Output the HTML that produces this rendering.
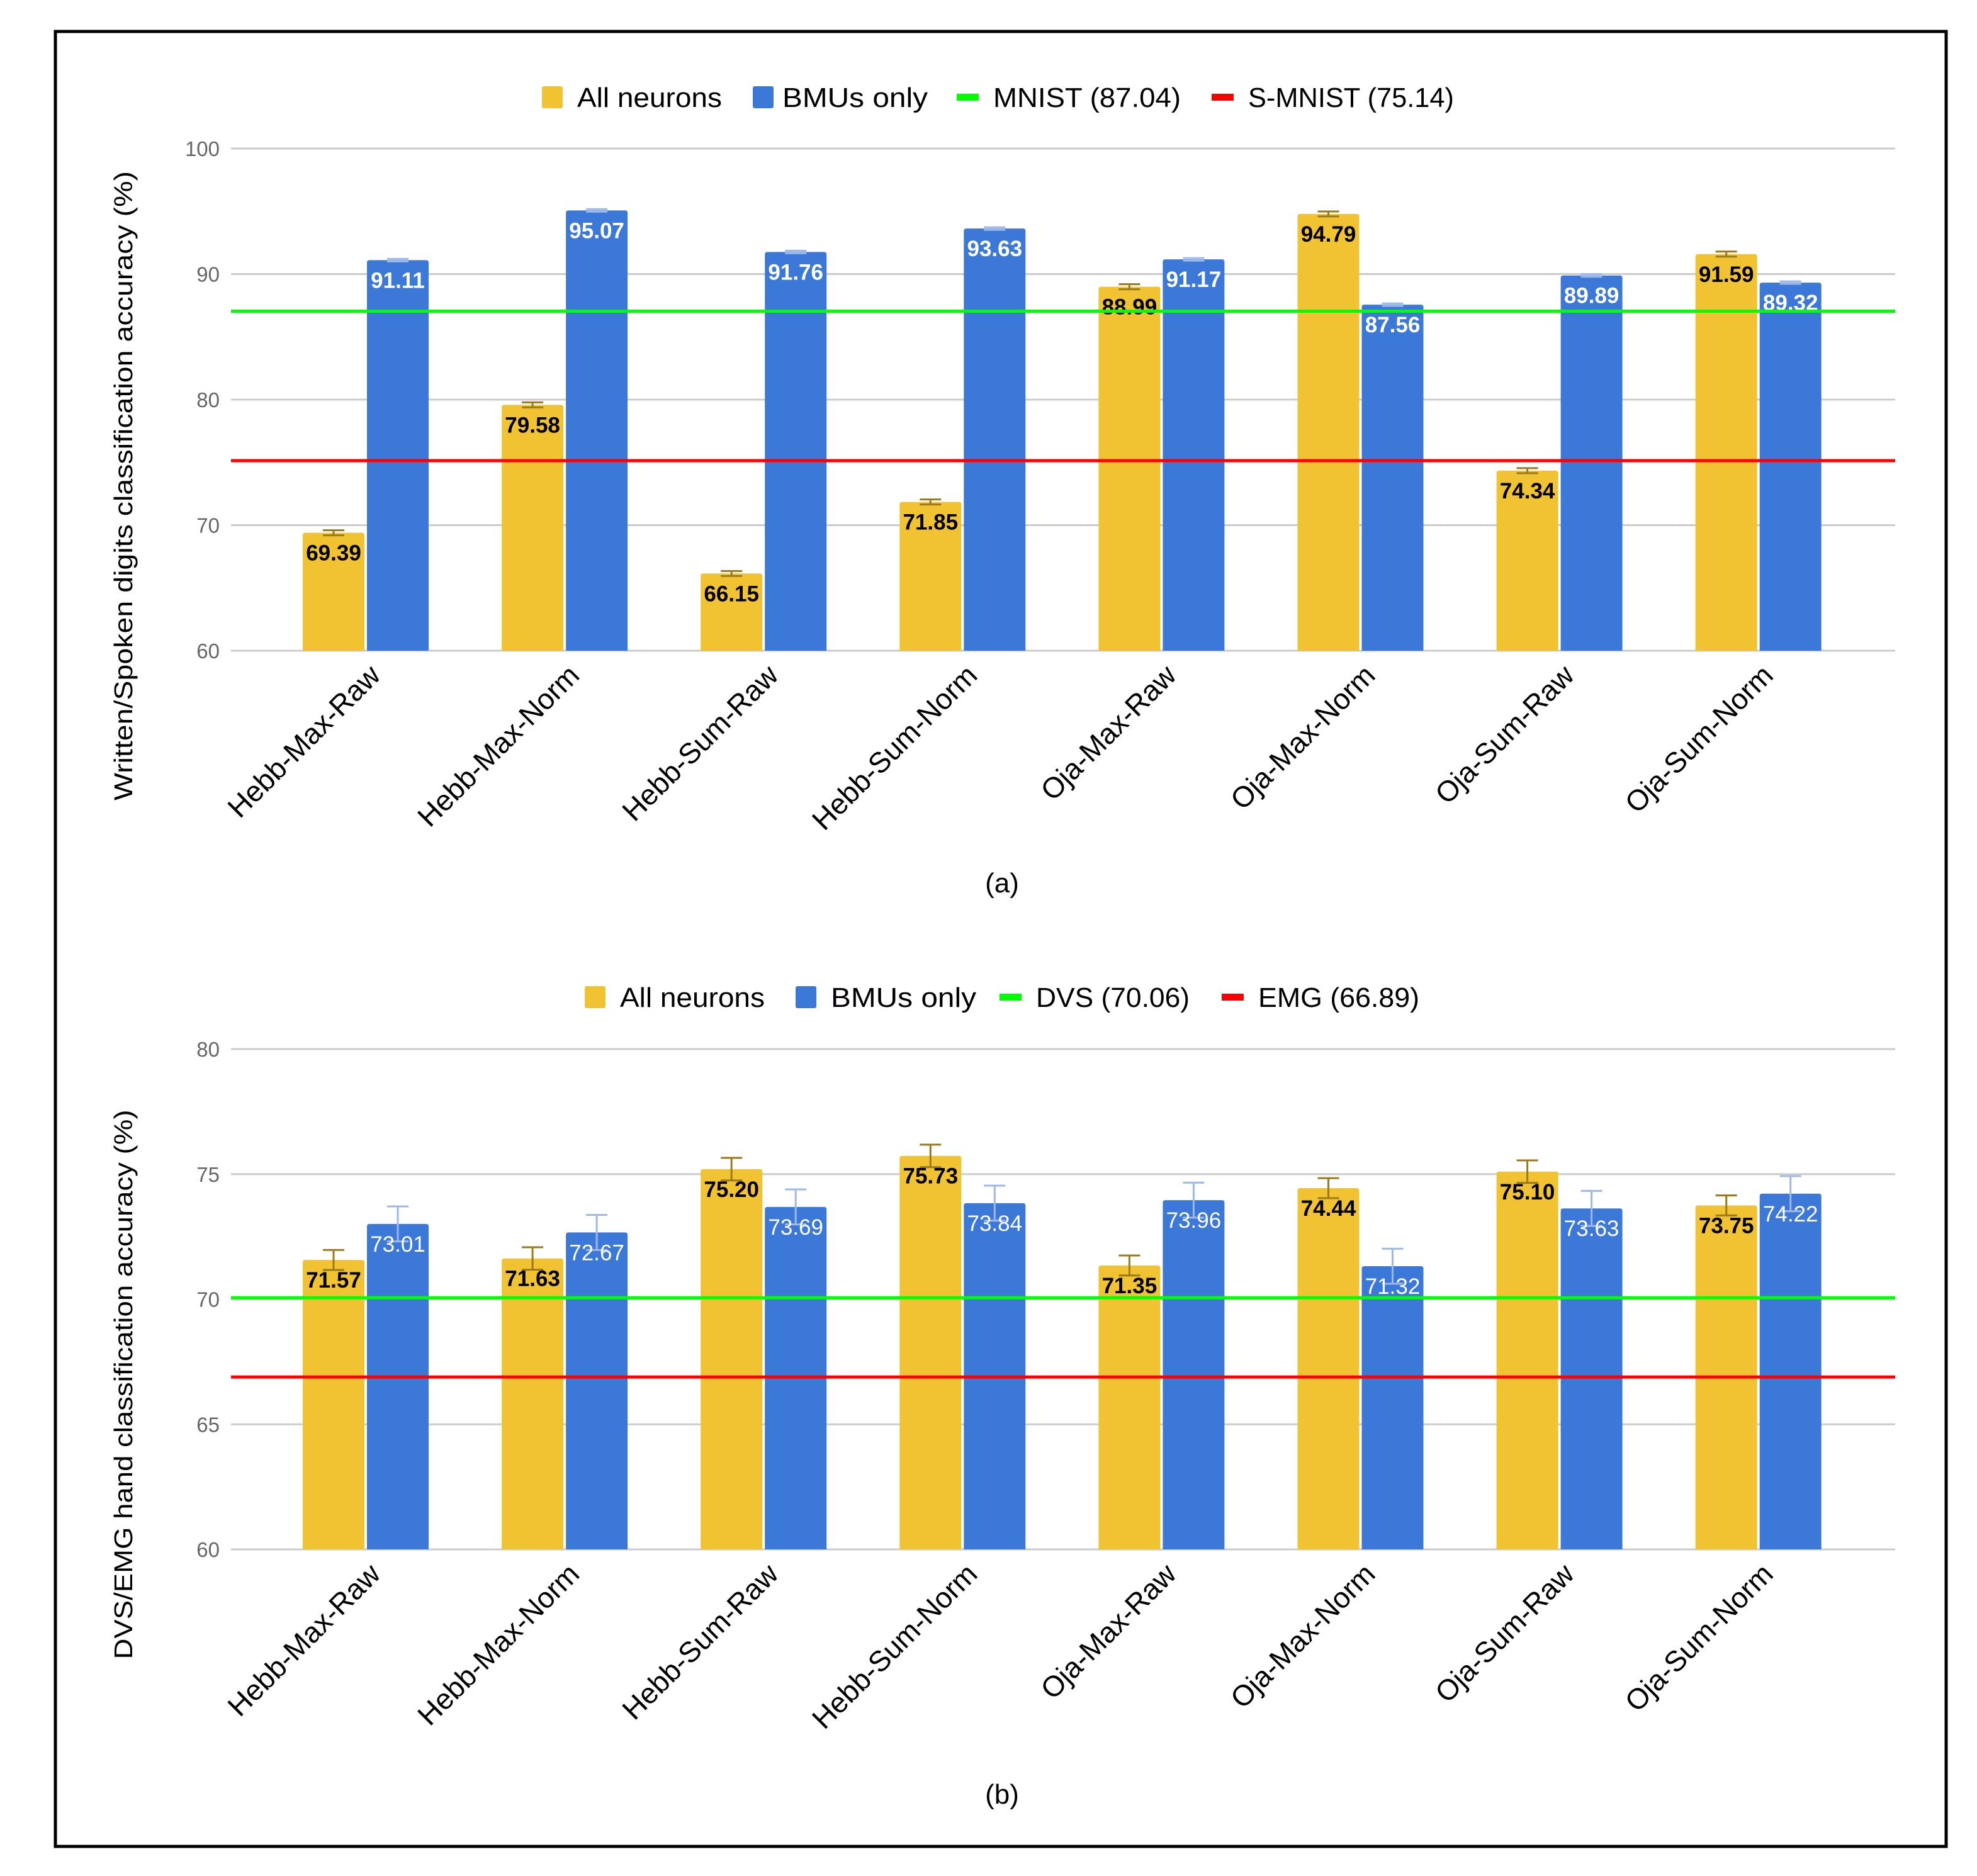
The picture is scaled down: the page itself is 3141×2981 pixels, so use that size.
<!DOCTYPE html>
<html><head><meta charset="utf-8"><style>
html,body{margin:0;padding:0;background:#fff}
svg{display:block}
text{font-family:"Liberation Sans",Arial,sans-serif}
</style></head><body>
<svg id="fig" width="3141" height="2981" viewBox="0 0 3141 2981" xmlns="http://www.w3.org/2000/svg">
<rect x="0" y="0" width="3141" height="2981" fill="#fff"/>
<rect x="88" y="50" width="3004" height="2884" fill="none" stroke="#000" stroke-width="5"/>
<g id="chartA"></g>
<g id="chartB"></g>
</svg>
<script>
const categories = ["Hebb-Max-Raw","Hebb-Max-Norm","Hebb-Sum-Raw","Hebb-Sum-Norm","Oja-Max-Raw","Oja-Max-Norm","Oja-Sum-Raw","Oja-Sum-Norm"];
const allNeuronsA = [69.39,79.58,66.15,71.85,88.99,94.79,74.34,91.59];
const bmusA = [91.11,95.07,91.76,93.63,91.17,87.56,89.89,89.32];
const allErrA = [0.2,0.2,0.2,0.2,0.2,0.2,0.2,0.2];
const bmuErrA = [0.1,0.1,0.1,0.1,0.1,0.1,0.1,0.1];
const refA = [87.04,75.14];
const ticksA = [60,70,80,90,100];
const allNeuronsB = [71.57,71.63,75.20,75.73,71.35,74.44,75.10,73.75];
const bmusB = [73.01,72.67,73.69,73.84,73.96,71.32,73.63,74.22];
const allErrB = [0.4,0.45,0.45,0.45,0.4,0.4,0.45,0.4];
const bmuErrB = [0.7,0.7,0.7,0.7,0.7,0.7,0.7,0.7];
const refB = [70.06,66.89];
const ticksB = [60,65,70,75,80];

const NS="http://www.w3.org/2000/svg";
function mk(parent, tag, attrs, txt){
  const e=document.createElementNS(NS,tag);
  for(const k in attrs) e.setAttribute(k,attrs[k]);
  if(txt!==undefined) e.textContent=txt;
  parent.appendChild(e); return e;
}
function draw(g, cfg){
  const yScale = v => cfg.yTop + (cfg.max - v)/(cfg.max-cfg.min)*(cfg.yBot-cfg.yTop);
  const xCenter = i => 581 + i*316.1;
  const X0=367, X1=3011;
  cfg.ticks.forEach(t=>{
    const l=mk(g,'line',{x1:X0,x2:X1,y1:yScale(t),y2:yScale(t),stroke:'#cccccc','stroke-width':3});
    
    
    const tx=mk(g,'text',{x:349,y:yScale(t)+12,'text-anchor':'end','font-size':33,fill:'#666'},String(t));
    
    
  });
  const yt=mk(g,'text',{x:0,y:0,transform:`translate(${cfg.titleX},${cfg.titleY}) rotate(-90)`,'text-anchor':'middle','font-size':41,fill:'#000',textLength:cfg.titleLen,lengthAdjust:'spacingAndGlyphs'},cfg.title);
  
  
  categories.forEach((c,i)=>{
    const cx=xCenter(i);
    const series=[[cfg.all[i],cfg.allErr[i],cx-100,'#F1C232','#9a7a1c','#000','bold','all-neurons'],[cfg.bmu[i],cfg.bmuErr[i],cx+2,'#3C78D8','#9db8ea','#fff',cfg.bmuWeight,'bmus-only']];
    series.forEach(s=>{
      const [v,err,x,col,ecol,tcol,w,nm]=s;
      const top=yScale(v), bot=yScale(cfg.min);
      const r=mk(g,'path',{d:`M${x},${bot} L${x},${top+4} Q${x},${top} ${x+4},${top} L${x+94},${top} Q${x+98},${top} ${x+98},${top+4} L${x+98},${bot} Z`,fill:col});
      
      
      const bx=x+49, et=yScale(v+err), eb=yScale(v-err);
      const e=mk(g,'path',{d:`M${bx-17},${et} L${bx+17},${et} M${bx},${et} L${bx},${eb} M${bx-17},${eb} L${bx+17},${eb}`,stroke:ecol,'stroke-width':3,fill:'none'});
      
      
      const t=mk(g,'text',{x:bx,y:top+44,'text-anchor':'middle','font-size':35,'font-weight':w,fill:tcol},v.toFixed(2));
      
      
    });
    const lb=mk(g,'text',{x:0,y:0,transform:`translate(${cx+26},${cfg.yBot+42}) rotate(-45)`,'text-anchor':'end','font-size':46,fill:'#000'},c);
    
    
  });
  [['#00FF00',cfg.ref[0],'ref-line-green'],['#FF0000',cfg.ref[1],'ref-line-red']].forEach(r=>{
    const l=mk(g,'line',{x1:X0,x2:X1,y1:yScale(r[1]),y2:yScale(r[1]),stroke:r[0],'stroke-width':5});
    
    
  });
  const ly=cfg.legY;
  cfg.legend.forEach(it=>{
    const [kind,col,x,tx,label,len]=it;
    let m;
    if(kind==='sq') m=mk(g,'rect',{x:x,y:ly-17,width:33,height:35,rx:3,fill:col});
    else m=mk(g,'rect',{x:x,y:ly-5,width:35,height:11,fill:col});
    
    
    const t=mk(g,'text',{x:tx,y:ly+16,'font-size':44,fill:'#000',textLength:len,lengthAdjust:'spacingAndGlyphs'},label);
    
    
  });
  const cap=mk(g,'text',{x:1592,y:cfg.capY,'text-anchor':'middle','font-size':44,fill:'#000'},cfg.caption);
  
  
}
draw(document.getElementById('chartA'),{
  yTop:236,yBot:1034,min:60,max:100,ticks:ticksA,all:allNeuronsA,bmu:bmusA,allErr:allErrA,bmuErr:bmuErrA,ref:refA,bmuWeight:'bold',
  title:'Written/Spoken digits classification accuracy (%)',titleX:210,titleY:772,titleLen:1000,
  legY:154,legend:[['sq','#F1C232',861,917,'All neurons',230],['sq','#3C78D8',1196,1243,'BMUs only',231],['ln','#00FF00',1520,1578,'MNIST (87.04)',298],['ln','#FF0000',1925,1983,'S-MNIST (75.14)',327]],
  capY:1418,caption:'(a)'});
draw(document.getElementById('chartB'),{
  yTop:1667,yBot:2462,min:60,max:80,ticks:ticksB,all:allNeuronsB,bmu:bmusB,allErr:allErrB,bmuErr:bmuErrB,ref:refB,bmuWeight:'normal',
  title:'DVS/EMG hand classification accuracy (%)',titleX:210,titleY:2200,titleLen:873,
  legY:1584,legend:[['sq','#F1C232',929,985,'All neurons',230],['sq','#3C78D8',1264,1320,'BMUs only',231],['ln','#00FF00',1588,1646,'DVS (70.06)',244],['ln','#FF0000',1941,1999,'EMG (66.89)',256]],
  capY:2866,caption:'(b)'});
</script>
</body></html>
